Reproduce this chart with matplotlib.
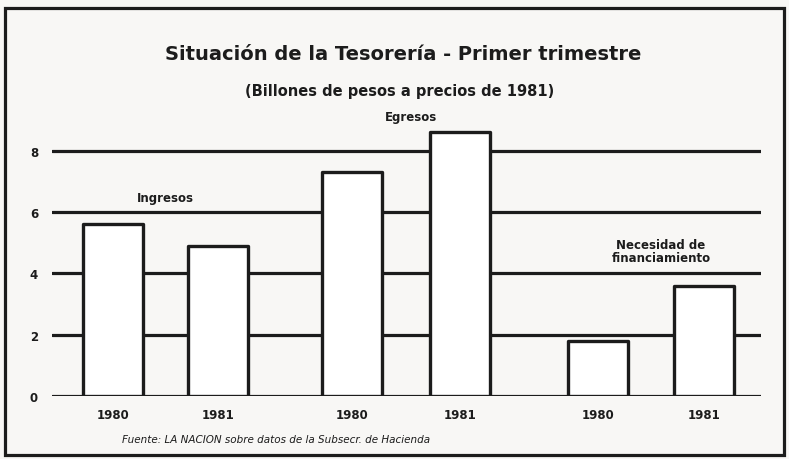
import matplotlib
matplotlib.use("Agg")
import matplotlib.pyplot as plt
from matplotlib.patches import Rectangle

# ---- data ----
groups = ["Ingresos", "Egresos", "Necesidad de\nfinanciamiento"]
years = ["1980", "1981"]
ingresos = [5.6, 4.9]
egresos = [7.3, 8.6]
necesidad = [1.8, 3.6]
yticks = [0, 2, 4, 6, 8]

title = "Situación de la Tesorería - Primer trimestre"
subtitle = "(Billones de pesos a precios de 1981)"
source = "Fuente: LA NACION sobre datos de la Subsecr. de Hacienda"

INK = "#1c1c1c"
BG = "#f8f7f5"

fig = plt.figure(figsize=(7.89, 4.60), dpi=100, facecolor=BG)
ax = fig.add_axes([52/789, 1-397/460, (761-52)/789, (397-121)/460])
ax.set_facecolor("none")

# bar centres in axis units (axis spans 0..709)
pos = {"Ingresos": [61, 166], "Egresos": [300, 408], "Necesidad de\nfinanciamiento": [546, 652]}
vals = {"Ingresos": ingresos, "Egresos": egresos, "Necesidad de\nfinanciamiento": necesidad}
width = 60

ax.set_xlim(0, 709)
ax.set_ylim(0, 9)

for yv in yticks:
    ax.axhline(yv, color=INK, lw=2.3, zorder=1, solid_capstyle="round")

xt, xl = [], []
for g in groups:
    ax.bar(pos[g], vals[g], width=width, color="white", edgecolor=INK,
           linewidth=2.4, zorder=3, joinstyle="round")
    xt += pos[g]
    xl += years

ax.set_xticks(xt)
ax.set_xticklabels(xl, fontsize=8.5, fontweight="bold", color=INK)
ax.set_yticks(yticks)
ax.set_yticklabels([str(v) for v in yticks], fontsize=8.5, fontweight="bold", color=INK)
ax.tick_params(length=0)
ax.tick_params(axis="x", pad=9)
ax.tick_params(axis="y", pad=10)
for s in ax.spines.values():
    s.set_visible(False)

# group labels
ax.text(sum(pos["Egresos"]) / 2 + 5, 9.13, groups[1], ha="center", va="center",
        fontsize=8.5, fontweight="bold", color=INK, clip_on=False)
ax.text(sum(pos["Ingresos"]) / 2, 6.25, groups[0], ha="center", va="bottom",
        fontsize=8.5, fontweight="bold", color=INK)
ax.text(sum(pos["Necesidad de\nfinanciamiento"]) / 2 + 10, 4.3, groups[2], ha="center",
        va="bottom", fontsize=8.5, fontweight="bold", color=INK, linespacing=1.0)

fig.text(0.511, 1 - 55/460, title, ha="center", va="center", fontsize=14,
         fontweight="bold", color=INK)
fig.text(0.507, 1 - 92/460, subtitle, ha="center", va="center", fontsize=10.5,
         fontweight="bold", color=INK)
fig.text(122/789, 1 - 440/460, source, ha="left", va="center", fontsize=7.5,
         style="italic", color=INK)

fig.patches.append(Rectangle((5/789, 1 - 456/460), (784 - 5)/789, (456 - 9)/460,
                             transform=fig.transFigure, fill=False, edgecolor=INK,
                             linewidth=2.3, zorder=0))

fig.savefig("out.png", dpi=100, facecolor=BG)
